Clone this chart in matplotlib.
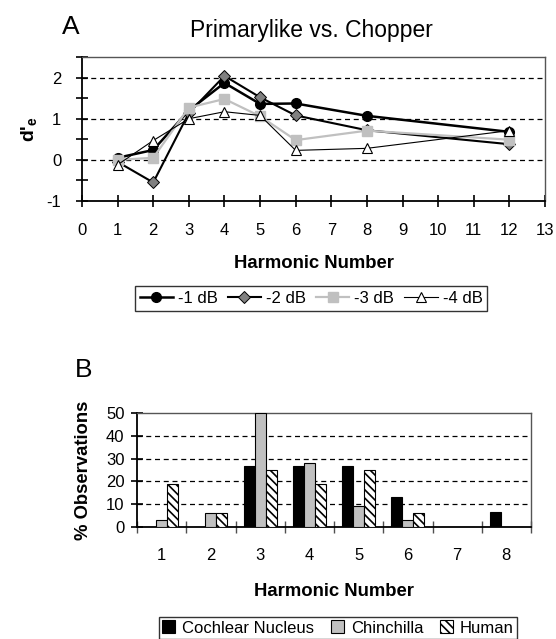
import matplotlib
matplotlib.use("Agg")
import matplotlib.pyplot as plt
import numpy as np

plt.rcParams['font.family'] = ['Liberation Sans', 'DejaVu Sans']
plt.rcParams['mathtext.fontset'] = 'custom'
plt.rcParams['mathtext.bf'] = 'Liberation Sans:bold'
plt.rcParams['mathtext.rm'] = 'Liberation Sans'
plt.rcParams['hatch.linewidth'] = 1.2

# ---------------- Data: panel A ----------------
harmonics_a = [1, 2, 3, 4, 5, 6, 8, 12]
d_minus1 = [0.05, 0.24, 1.20, 1.87, 1.36, 1.37, 1.07, 0.68]
d_minus2 = [-0.05, -0.55, 1.14, 2.04, 1.52, 1.08, 0.72, 0.38]
d_minus3 = [0.00, 0.05, 1.27, 1.48, 1.06, 0.48, 0.71, 0.49]
d_minus4 = [-0.12, 0.47, 1.00, 1.17, 1.08, 0.23, 0.28, 0.71]
series_labels_a = ['-1 dB', '-2 dB', '-3 dB', '-4 dB']

# ---------------- Data: panel B ----------------
harmonics_b = [1, 2, 3, 4, 5, 6, 7, 8]
cochlear_nucleus = [0, 0, 26.7, 26.7, 26.7, 13.3, 0, 6.7]
chinchilla = [3.1, 6.25, 50.0, 28.1, 9.4, 3.1, 0, 0]
human = [18.75, 6.25, 25.0, 18.75, 25.0, 6.25, 0, 0]
series_labels_b = ['Cochlear Nucleus', 'Chinchilla', 'Human']

W, H = 556, 639
fig = plt.figure(figsize=(W / 100, H / 100), dpi=100)
FS = 12
LFS = 13.3

def frac_axes(l, t, r, b):
    return fig.add_axes([l / W, 1 - b / H, (r - l) / W, (b - t) / H])

def style_spines(ax):
    for s in ['left', 'bottom']:
        ax.spines[s].set_color('black')
        ax.spines[s].set_linewidth(1.3)
    for s in ['top', 'right']:
        ax.spines[s].set_color('#555555')
        ax.spines[s].set_linewidth(1.0)

# ================= Panel A =================
axA = frac_axes(82, 57, 545, 201)
axA.set_xlim(0, 13)
axA.set_ylim(-1, 2.5)
for yv in [0, 1, 2]:
    axA.axhline(yv, color='black', lw=0.9, ls=(0, (4, 3)), zorder=1)

styles = [
    dict(color='black', lw=1.8, marker='o', ms=7, mfc='black', mec='black'),
    dict(color='black', lw=1.5, marker='D', ms=6, mfc='#808080', mec='black', mew=0.7),
    dict(color='#c0c0c0', lw=1.6, marker='s', ms=7, mfc='#c0c0c0', mec='#c0c0c0'),
    dict(color='black', lw=0.8, marker='^', ms=7.5, mfc='white', mec='black', mew=0.8),
]
for vals, lab, st in zip([d_minus1, d_minus2, d_minus3, d_minus4], series_labels_a, styles):
    axA.plot(harmonics_a, vals, label=lab, zorder=3, **st)

axA.set_xticks(range(0, 14))
axA.set_yticks(np.arange(-1, 2.51, 0.5))
axA.set_yticklabels(['-1', '', '0', '', '1', '', '2', ''])
axA.tick_params(axis='both', direction='inout', length=8, width=1.2, labelsize=FS, color='black')
axA.tick_params(axis='x', pad=12)
axA.tick_params(axis='y', pad=11)
style_spines(axA)
axA.set_xlabel('Harmonic Number', fontsize=LFS, fontweight='bold')
axA.xaxis.set_label_coords(0.5, (201 - 263) / 144)
axA.xaxis.label.set_va('center')
axA.set_ylabel("d'$_\\mathbf{e}$", fontsize=14, fontweight='bold')
axA.yaxis.set_label_coords((30 - 82) / 463, 0.5)
axA.yaxis.label.set_va('center')

legA = fig.legend(*axA.get_legend_handles_labels(), loc='center',
                  bbox_to_anchor=(311 / W, 1 - 298 / H), ncol=4, fontsize=FS,
                  frameon=True, fancybox=False, edgecolor='black', handlelength=2.0,
                  handletextpad=0.3, columnspacing=0.6, borderpad=0.3)
legA.get_frame().set_linewidth(1.0)

fig.text(62 / W, 1 - 27 / H, 'A', fontsize=19, ha='left', va='center')
fig.text(311 / W, 1 - 31 / H, 'Primarylike vs. Chopper', fontsize=16.5, ha='center', va='center')

# ================= Panel B =================
axB = frac_axes(137, 413, 531, 527)
axB.set_xlim(0.5, 8.5)
axB.set_ylim(0, 50)
for yv in [10, 20, 30, 40]:
    axB.axhline(yv, color='black', lw=0.9, ls=(0, (4, 3)), zorder=1)

x = np.array(harmonics_b, dtype=float)
bw = 0.225
axB.bar(x - bw, cochlear_nucleus, bw, color='black', edgecolor='black', lw=0.8,
        label=series_labels_b[0], zorder=3)
axB.bar(x, chinchilla, bw, color='#c0c0c0', edgecolor='black', lw=0.8,
        label=series_labels_b[1], zorder=3)
axB.bar(x + bw, human, bw, color='white', edgecolor='black', lw=0.8, hatch='\\\\\\\\',
        label=series_labels_b[2], zorder=3)

axB.set_yticks(range(0, 51, 10))
axB.set_xticks(np.arange(0.5, 8.6, 1.0))
axB.set_xticklabels([''] * 9)
axB.set_xticks(harmonics_b, minor=True)
axB.set_xticklabels([str(h) for h in harmonics_b], minor=True)
axB.tick_params(axis='x', which='major', direction='inout', length=8, width=1.0, color='#505050')
axB.tick_params(axis='x', which='minor', length=0, labelsize=FS, pad=15)
axB.tick_params(axis='y', direction='inout', length=8, width=1.2, labelsize=FS, pad=5)
style_spines(axB)
axB.set_xlabel('Harmonic Number', fontsize=LFS, fontweight='bold')
axB.xaxis.set_label_coords(0.5, (527 - 591) / 114)
axB.xaxis.label.set_va('center')
axB.set_ylabel('% Observations', fontsize=LFS, fontweight='bold')
axB.yaxis.set_label_coords((83 - 137) / 394, 0.5)
axB.yaxis.label.set_va('center')

legB = fig.legend(*axB.get_legend_handles_labels(), loc='center',
                  bbox_to_anchor=(338 / W, 1 - 628 / H), ncol=3, fontsize=FS,
                  frameon=True, fancybox=False, edgecolor='black', handlelength=0.8,
                  handleheight=0.8, handletextpad=0.4, columnspacing=1.0, borderpad=0.2)
legB.get_frame().set_linewidth(1.0)

fig.text(75 / W, 1 - 370 / H, 'B', fontsize=19, ha='left', va='center')

fig.savefig('out.png', dpi=100)
